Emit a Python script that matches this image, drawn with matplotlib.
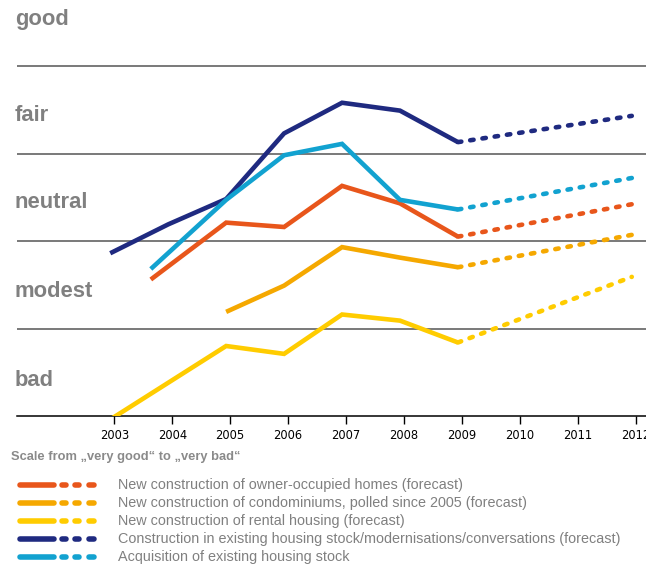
import matplotlib
matplotlib.use("Agg")
import matplotlib.pyplot as plt
from matplotlib.transforms import blended_transform_factory

# survey scores (0 = bad band bottom, each band one unit)
years_ticks = [2003, 2004, 2005, 2006, 2007, 2008, 2009, 2010, 2011, 2012]

owner_x = [2003.7, 2005, 2006, 2007, 2008, 2009]
owner_y = [1.56, 2.21, 2.16, 2.63, 2.43, 2.05]
owner_fx = [2009, 2012]
owner_fy = [2.05, 2.42]

condo_x = [2005, 2006, 2007, 2008, 2009]
condo_y = [1.19, 1.49, 1.93, 1.81, 1.70]
condo_fx = [2009, 2012]
condo_fy = [1.70, 2.07]

rental_x = [2003, 2005, 2006, 2007, 2008, 2009]
rental_y = [-0.04, 0.80, 0.71, 1.16, 1.09, 0.84]
rental_fx = [2009, 2012]
rental_fy = [0.84, 1.59]

existing_x = [2003, 2004, 2005, 2006, 2007, 2008, 2009]
existing_y = [1.86, 2.19, 2.48, 3.23, 3.58, 3.49, 3.13]
existing_fx = [2009, 2012]
existing_fy = [3.13, 3.43]

acq_x = [2003.7, 2005, 2006, 2007, 2008, 2009]
acq_y = [1.68, 2.47, 2.98, 3.11, 2.47, 2.36]
acq_fx = [2009, 2012]
acq_fy = [2.36, 2.72]

band_labels = ["good", "fair", "neutral", "modest", "bad"]
band_label_y = [4.53, 3.43, 2.44, 1.42, 0.40]

legend_labels = [
    "New construction of owner-occupied homes (forecast)",
    "New construction of condominiums, polled since 2005 (forecast)",
    "New construction of rental housing (forecast)",
    "Construction in existing housing stock/modernisations/conversations (forecast)",
    "Acquisition of existing housing stock",
]
colors = ["#E8561B", "#F5A800", "#FFCC00", "#1F2A80", "#12A2D0"]

series = [
    (owner_x, owner_y, owner_fx, owner_fy),
    (condo_x, condo_y, condo_fx, condo_fy),
    (rental_x, rental_y, rental_fx, rental_fy),
    (existing_x, existing_y, existing_fx, existing_fy),
    (acq_x, acq_y, acq_fx, acq_fy),
]

W, H = 646, 564
fig = plt.figure(figsize=(W / 100, H / 100), dpi=100)
ax = fig.add_axes([17 / W, (H - 416) / H, (W - 17) / W, 416 / H])

x0 = 2003 + (17 - 114.3) / 57.95
x1 = 2003 + (646 - 114.3) / 57.95
ax.set_xlim(x0, x1)
ax.set_ylim(0, 416 / 87.5)

shift = -0.07
lw = 3.3
for (xs, ys, fxs, fys), c in zip(series, colors):
    ax.plot([x + shift for x in xs], ys, color=c, lw=lw, solid_capstyle="butt",
            solid_joinstyle="miter", zorder=3, clip_on=True)
    ax.plot([x + shift for x in fxs], fys, color=c, lw=lw, ls=(0, (0.75, 1.95)),
            dash_capstyle="round", zorder=3)

for v in [1, 2, 3, 4]:
    ax.axhline(v, color="#555555", lw=1.1, zorder=1)

for s in ["top", "right", "left"]:
    ax.spines[s].set_visible(False)
ax.spines["bottom"].set_color("black")
ax.spines["bottom"].set_linewidth(1.1)
ax.set_yticks([])
ax.set_xticks(years_ticks)
ax.set_xticklabels([str(y) for y in years_ticks],
                   family=["Liberation Sans Narrow", "DejaVu Sans"], fontsize=8.3)
ax.tick_params(axis="x", length=6, width=1, direction="out", pad=3.5, color="black")

tr = blended_transform_factory(fig.transFigure, ax.transData)
for lab, yv in zip(band_labels, band_label_y):
    ax.text(15 / W, yv, lab, transform=tr, fontsize=15.8, fontweight="bold",
            color="#808080", va="center", ha="left",
            family=["Liberation Sans", "DejaVu Sans"])

# legend area in pixel coordinates
lg = fig.add_axes([0, 0, 1, 1], zorder=-1)
lg.set_xlim(0, W)
lg.set_ylim(H, 0)
lg.axis("off")

lg.text(11, 457, "Scale from \u201every good\u201c to \u201every bad\u201c", fontsize=9.3,
        fontweight="bold", color="#8a8a8a", va="center", ha="left",
        family=["Liberation Sans", "DejaVu Sans"])

row_y = [485, 503, 521, 539, 557]
for lab, c, yy in zip(legend_labels, colors, row_y):
    lg.plot([20, 54], [yy, yy], color=c, lw=4, solid_capstyle="round")
    for a, b in [(62, 66), (75, 79), (89, 94)]:
        lg.plot([a, b], [yy, yy], color=c, lw=4, solid_capstyle="round")
    lg.text(118, yy, lab, fontsize=10.4, color="#808080", va="center", ha="left",
            family=["Liberation Sans", "DejaVu Sans"])

fig.savefig("out.png", dpi=100)
